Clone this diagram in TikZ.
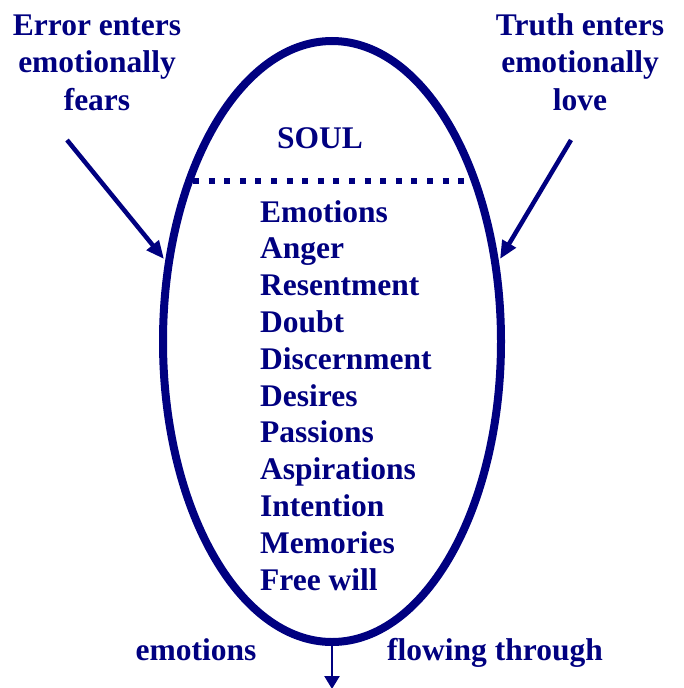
\documentclass[tikz,border=0pt]{standalone}
\usepackage{fontspec}
\setmainfont{Liberation Serif}
\usetikzlibrary{arrows.meta,shapes.geometric}
\definecolor{soulblue}{HTML}{000080}
\begin{document}
\begin{tikzpicture}[x=1pt,y=-1pt,
  font=\bfseries\fontsize{31.5}{37.5}\selectfont,
  every node/.style={text=soulblue,inner sep=0pt},
  label/.style={align=center},
  item/.style={anchor=base west},
  enter/.style={draw=soulblue,line width=4.5pt,-{Triangle[length=18pt,width=15pt]}}]
\useasboundingbox (0,0) rectangle (683,688);
% the soul
\node[ellipse,draw=soulblue,line width=8pt,minimum width=338pt,minimum height=601pt] (soul) at (332,341.5) {};
\node[anchor=base] (title) at (320,148) {SOUL};
\coordinate (divL) at (193,181);
\coordinate (divR) at (471,181);
\draw[soulblue,line width=6pt,dash pattern=on 6pt off 9.6pt] (divL) -- (divR);
% contents
\foreach \txt [count=\i] in {Emotions,Anger,Resentment,Doubt,Discernment,Desires,Passions,Aspirations,Intention,Memories,Free will}
  \node[item] (item\i) at (260,{222+36.8*(\i-1)}) {\txt};
% entering (base = last line)
\node[label,anchor=base] (error) at (97,110) {Error enters\\emotionally\\fears};
\node[label,anchor=base] (truth) at (580,110) {Truth enters\\emotionally\\love};
\coordinate (errorA) at (67,140);
\coordinate (errorB) at (164,259);
\coordinate (truthA) at (571,140);
\coordinate (truthB) at (500,259);
\draw[enter] (errorA) -- (errorB);
\draw[enter] (truthA) -- (truthB);
% flowing out
\node[anchor=base] (emo) at (196,660) {emotions};
\node[anchor=base] (flow) at (495,660) {flowing through};
\coordinate (out) at (332,689);
\draw[soulblue,line width=2.5pt,-{Triangle[length=13pt,width=15pt]}] (soul.south) -- (out);
\end{tikzpicture}
\end{document}
